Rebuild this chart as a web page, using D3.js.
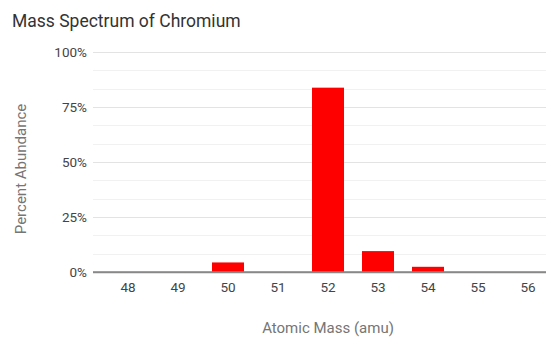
<!DOCTYPE html>
<html><head><meta charset="utf-8">
<script src="https://cdn.jsdelivr.net/npm/d3@7"></script>
<style>
html,body{margin:0;padding:0;background:#fff;overflow:hidden;}
text{font-family:Roboto, "Noto Sans", Arial, sans-serif;}
</style></head>
<body><div id="chart"></div>
<script>
const masses = ["48","49","50","51","52","53","54","55","56"];
const abundance = [0, 0, 4.345, 0, 83.789, 9.501, 2.365, 0, 0];
const yTicks = [0, 25, 50, 75, 100];
const title = "Mass Spectrum of Chromium";
const xTitle = "Atomic Mass (amu)";
const yTitle = "Percent Abundance";

const W = 546, H = 337;
const svg = d3.select("#chart").append("svg").attr("width", W).attr("height", H);

const x = d3.scaleBand().domain(masses).range([93, 563]).paddingInner(0.36).paddingOuter(0.38);
const y = d3.scaleLinear().domain([0, 100]).range([272, 52]);

// minor gridlines
const minor = d3.range(0, 100.01, 25/3).filter(v => Math.abs(v % 25) > 0.1 && Math.abs(v % 25 - 25) > 0.1);
svg.append("g").selectAll("line").data(minor).join("line")
  .attr("x1", 93).attr("x2", 563).attr("y1", d => Math.round(y(d)) + 0.5).attr("y2", d => Math.round(y(d)) + 0.5)
  .attr("stroke", "#f1f1f1").attr("stroke-width", 1);

// major gridlines via axis
const yAxis = d3.axisLeft(y).tickValues(yTicks).tickFormat(d => d + "%").tickSize(-(563 - 93)).tickPadding(6);
const gy = svg.append("g").attr("transform", "translate(93,0)").call(yAxis);
gy.select(".domain").remove();
gy.selectAll(".tick line").attr("stroke", d => d === 0 ? "#888" : "#e3e3e3").attr("stroke-width", d => d === 0 ? 1.3 : 1);
gy.selectAll(".tick text").attr("fill", "#444").attr("font-size", 13.5).attr("font-family", "Roboto");

// bars
svg.append("g").selectAll("rect").data(masses.map((m, i) => ({m, v: abundance[i]})).filter(d => d.v > 0))
  .join("rect")
  .attr("x", d => x(d.m)).attr("width", x.bandwidth())
  .attr("y", d => y(d.v)).attr("height", d => y(0) - y(d.v))
  .attr("fill", "#ff0000");

// redraw baseline on top
svg.append("line").attr("x1", 93).attr("x2", 563).attr("y1", y(0)).attr("y2", y(0)).attr("stroke", "#888").attr("stroke-width", 1.3);

// x axis labels
const xAxis = d3.axisBottom(x).tickSize(0).tickPadding(10);
const gx = svg.append("g").attr("transform", `translate(0,${y(0)})`).call(xAxis);
gx.select(".domain").remove();
gx.selectAll(".tick text").attr("fill", "#444").attr("font-size", 13.5).attr("font-family", "Roboto");

// titles
svg.append("text").attr("x", 12).attr("y", 27).attr("fill", "#333").attr("font-size", 17.5).text(title);
svg.append("text").attr("x", 328).attr("y", 333).attr("text-anchor", "middle").attr("fill", "#757575").attr("font-size", 15).text(xTitle);
svg.append("text").attr("transform", "translate(26,169) rotate(-90)").attr("text-anchor", "middle").attr("fill", "#757575").attr("font-size", 15).text(yTitle);
</script></body></html>
